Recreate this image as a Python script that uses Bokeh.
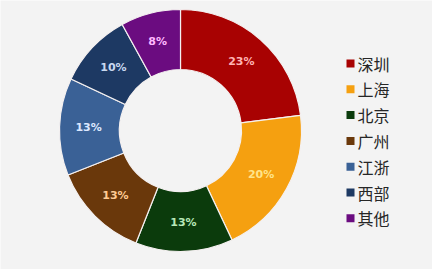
import numpy as np
from bokeh.plotting import figure
from bokeh.models import Range1d, ColumnDataSource
from bokeh.core.properties import value
from bokeh.embed import file_html
from bokeh.resources import INLINE

# Share of each region (percent)
regions = ["深圳", "上海", "北京", "广州", "江浙", "西部", "其他"]
shares = [23, 20, 13, 13, 13, 10, 8]

colors = ["#A80202", "#F5A010", "#0B3B0C", "#6A380B", "#3A6196", "#1D3963", "#6B0C80"]
label_colors = ["#FFB4B4", "#FFE48A", "#B8E8B8", "#FFCB94", "#DCE8FF", "#C8D8F0", "#FFB8FF"]

W, H = 432, 269
cx, cy = 180, H - 130
r_out, r_in = 121, 61

p = figure(width=W, height=H, output_backend="svg", toolbar_location=None,
           x_range=Range1d(0, W), y_range=Range1d(0, H),
           min_border=0, outline_line_color=None,
           background_fill_color="#F3F3F3", border_fill_color="#F3F3F3")
p.axis.visible = False
p.grid.visible = False

# Slices run clockwise from 12 o'clock
frac = np.array(shares, dtype=float) / sum(shares)
ends_cum = np.cumsum(frac)
starts_cum = ends_cum - frac
start_ang = np.pi / 2 - starts_cum * 2 * np.pi
end_ang = np.pi / 2 - ends_cum * 2 * np.pi
mid_ang = (start_ang + end_ang) / 2

src = ColumnDataSource(dict(start=start_ang, end=end_ang, color=colors,
                            region=regions))
p.annular_wedge(x=cx, y=cy, inner_radius=r_in, outer_radius=r_out,
                start_angle="end", end_angle="start", source=src,
                fill_color="color", line_color="#F4F0F0", line_width=1.2)

# Percentage labels inside the ring
r_lab = 92
lab_src = ColumnDataSource(dict(
    x=cx + r_lab * np.cos(mid_ang),
    y=cy + r_lab * np.sin(mid_ang),
    text=[f"{s}%" for s in shares],
    color=label_colors))
p.text(x="x", y="y", text="text", source=lab_src, text_color="color",
       text_align="center", text_baseline="middle", text_font_size="11px",
       text_font_style="bold", text_font=value("DejaVu Sans"))

# Legend on the right
lx, ly0, dy = 350, H - 63, 25.8
ys = ly0 - dy * np.arange(len(regions))
leg_src = ColumnDataSource(dict(x=[lx] * len(regions), y=ys, color=colors,
                                tx=[lx + 7] * len(regions), text=regions))
p.rect(x="x", y="y", width=8, height=8, source=leg_src, fill_color="color",
       line_color=None)
p.text(x="tx", y="y", text="text", source=leg_src, text_color="#262626",
       text_align="left", text_baseline="middle", text_font_size="16px",
       text_font=value("Noto Sans CJK SC"))

open("out.html", "w").write(file_html(p, INLINE))
